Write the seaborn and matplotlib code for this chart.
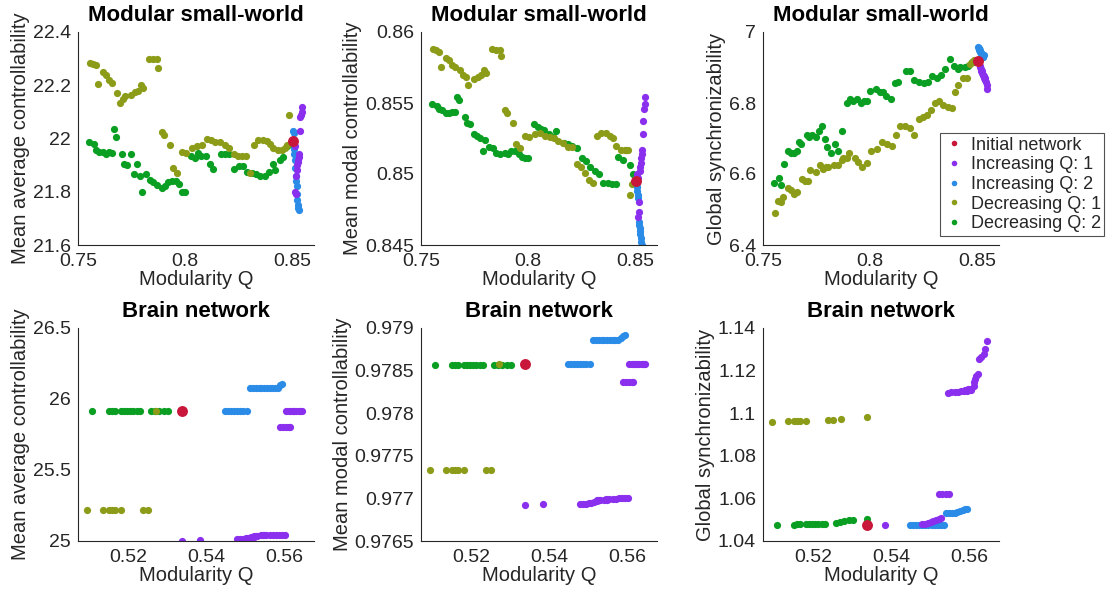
import numpy as np
import matplotlib
matplotlib.use("Agg")
import matplotlib.pyplot as plt
import seaborn as sns
from matplotlib.lines import Line2D

# ---------------- data: top row (Modular small-world) ----------------
labels = ["Initial network", "Increasing Q: 1", "Increasing Q: 2", "Decreasing Q: 1", "Decreasing Q: 2"]
titles = ["Modular small-world", "Brain network"]
ylabels = ["Mean average controllability", "Mean modal controllability", "Global synchronizability"]
xlabel = "Modularity Q"

sw_init_x = [0.8500]
sw_init_avg = [21.99]
sw_init_modal = [0.8495]
sw_init_sync = [6.918]

sw_inc1_x = [0.8505, 0.8510, 0.8512, 0.8515, 0.8518, 0.8520, 0.8522, 0.8525, 0.8527, 0.8530,
             0.8532, 0.8535, 0.8537, 0.8540, 0.8542, 0.8545]
sw_inc1_avg = [21.99, 21.97, 21.80, 21.79, 21.86, 21.88, 21.90, 21.91, 21.92, 21.93,
               21.94, 22.03, 22.08, 22.09, 22.10, 22.12]
sw_inc1_modal = [0.8500, 0.8497, 0.8470, 0.8473, 0.8480, 0.8502, 0.8505, 0.8508, 0.8511, 0.8514,
                 0.8517, 0.8528, 0.8537, 0.8546, 0.8549, 0.8554]
sw_inc1_sync = [6.915, 6.905, 6.900, 6.895, 6.890, 6.890, 6.885, 6.880, 6.880, 6.875,
                6.870, 6.870, 6.865, 6.860, 6.850, 6.840]

sw_inc2_x = [0.8502, 0.8505, 0.8507, 0.8509, 0.8511, 0.8513, 0.8515, 0.8517, 0.8519, 0.8521,
             0.8523, 0.8525, 0.8527, 0.8530]
sw_inc2_avg = [22.03, 22.02, 21.96, 21.94, 21.92, 21.89, 21.86, 21.84, 21.82, 21.79,
               21.77, 21.75, 21.74, 21.73]
sw_inc2_modal = [0.8497, 0.8494, 0.8491, 0.8488, 0.8485, 0.8483, 0.8466, 0.8464, 0.8462, 0.8460,
                 0.8458, 0.8455, 0.8452, 0.8450]
sw_inc2_sync = [6.958, 6.955, 6.952, 6.950, 6.948, 6.945, 6.942, 6.940, 6.938, 6.935,
                6.932, 6.930, 6.930, 6.935]

sw_dec1_x = [0.7555, 0.7570, 0.7585, 0.7595, 0.7615, 0.7630, 0.7645, 0.7660, 0.7680, 0.7695,
             0.7710, 0.7720, 0.7745, 0.7765, 0.7780, 0.7795, 0.7805, 0.7830, 0.7850, 0.7870,
             0.7875, 0.7890, 0.7900, 0.7930, 0.7945, 0.7960, 0.7985, 0.8005, 0.8030, 0.8055,
             0.8080, 0.8100, 0.8120, 0.8140, 0.8160, 0.8185, 0.8205, 0.8225, 0.8245, 0.8265,
             0.8285, 0.8300, 0.8320, 0.8340, 0.8360, 0.8380, 0.8395, 0.8410, 0.8430, 0.8450,
             0.8465, 0.8475, 0.8485]
sw_dec1_avg = [22.285, 22.280, 22.275, 22.205, 22.250, 22.240, 22.220, 22.210, 22.170, 22.135,
               22.150, 22.160, 22.165, 22.175, 22.180, 22.200, 22.190, 22.300, 22.300, 22.298,
               22.265, 22.025, 22.015, 21.975, 21.890, 21.870, 21.950, 21.945, 21.965, 21.970,
               21.975, 22.000, 21.995, 21.985, 21.985, 21.975, 21.965, 21.940, 21.935, 21.935,
               21.935, 21.870, 21.975, 21.995, 21.995, 21.990, 21.980, 21.965, 21.955, 21.955,
               21.965, 21.975, 22.090]
sw_dec1_modal = [0.8588, 0.8587, 0.8586, 0.85755, 0.8582, 0.8580, 0.8577, 0.8575, 0.8573, 0.8570,
                 0.8568, 0.8563, 0.8567, 0.8568, 0.8570, 0.8573, 0.8571, 0.8588, 0.8587, 0.8587,
                 0.8583, 0.8545, 0.8543, 0.8536, 0.8521, 0.8518, 0.8527, 0.8526, 0.8528, 0.8529,
                 0.8527, 0.8526, 0.8525, 0.8523, 0.8522, 0.8519, 0.8519, 0.8507, 0.8505, 0.8501,
                 0.8496, 0.8494, 0.8527, 0.8529, 0.8529, 0.8527, 0.8525, 0.8520, 0.8517, 0.8517,
                 0.8517, 0.8485, 0.8493]
sw_dec1_sync = [6.490, 6.525, 6.520, 6.535, 6.560, 6.555, 6.545, 6.550, 6.585, 6.580,
                6.580, 6.610, 6.605, 6.625, 6.615, 6.620, 6.620, 6.625, 6.625, 6.640,
                6.645, 6.645, 6.660, 6.645, 6.635, 6.620, 6.630, 6.665, 6.670, 6.690,
                6.685, 6.680, 6.710, 6.735, 6.735, 6.730, 6.710, 6.755, 6.760, 6.765,
                6.780, 6.800, 6.805, 6.795, 6.790, 6.785, 6.830, 6.850, 6.870, 6.870,
                6.910, 6.915, 6.920]

sw_dec2_x = [0.7550, 0.7575, 0.7585, 0.7600, 0.7615, 0.7630, 0.7645, 0.7660, 0.7670, 0.7675,
             0.7705, 0.7715, 0.7730, 0.7745, 0.7760, 0.7775, 0.7790, 0.7800, 0.7815, 0.7835,
             0.7850, 0.7870, 0.7890, 0.7905, 0.7920, 0.7940, 0.7955, 0.7970, 0.7985, 0.8000,
             0.8025, 0.8045, 0.8060, 0.8075, 0.8095, 0.8115, 0.8130, 0.8165, 0.8185, 0.8205,
             0.8225, 0.8250, 0.8270, 0.8290, 0.8310, 0.8330, 0.8350, 0.8370, 0.8390, 0.8410,
             0.8420, 0.8440, 0.8455, 0.8475, 0.8490]
sw_dec2_avg = [21.985, 21.980, 21.955, 21.950, 21.950, 21.940, 21.950, 21.945, 22.035, 22.005,
               21.940, 21.905, 21.900, 21.940, 21.865, 21.905, 21.860, 21.800, 21.865, 21.845,
               21.835, 21.825, 21.815, 21.820, 21.835, 21.840, 21.840, 21.830, 21.800, 21.800,
               21.935, 21.925, 21.945, 21.935, 21.935, 21.905, 21.885, 21.940, 21.940, 21.940,
               21.885, 21.895, 21.895, 21.875, 21.870, 21.865, 21.860, 21.860, 21.875, 21.905,
               21.880, 21.920, 21.930, 21.970, 21.980]
sw_dec2_modal = [0.8549, 0.8548, 0.8546, 0.8545, 0.8543, 0.8543, 0.8544, 0.8544, 0.8554, 0.8552,
                 0.8540, 0.8536, 0.8535, 0.8528, 0.8527, 0.8525, 0.8516, 0.8524, 0.8519, 0.8518,
                 0.8515, 0.8514, 0.8515, 0.8514, 0.8516, 0.8516, 0.8514, 0.8512, 0.8511, 0.8511,
                 0.8535, 0.8533, 0.8532, 0.8531, 0.8528, 0.8526, 0.8530, 0.8522, 0.8521, 0.8520,
                 0.8518, 0.8511, 0.8509, 0.8505, 0.8502, 0.8500, 0.8494, 0.8494, 0.8493, 0.8493,
                 0.8512, 0.8510, 0.8517, 0.8506, 0.8500]
sw_dec2_sync = [6.576, 6.590, 6.570, 6.628, 6.665, 6.660, 6.660, 6.665, 6.690, 6.685,
                6.710, 6.705, 6.710, 6.705, 6.720, 6.735, 6.700, 6.675, 6.660, 6.685,
                6.665, 6.720, 6.800, 6.810, 6.805, 6.810, 6.800, 6.805, 6.805, 6.835,
                6.840, 6.830, 6.830, 6.820, 6.810, 6.855, 6.860, 6.890, 6.890, 6.865,
                6.860, 6.855, 6.860, 6.875, 6.870, 6.880, 6.895, 6.925, 6.905, 6.895,
                6.900, 6.900, 6.905, 6.915, 6.915]

# ---------------- data: bottom row (Brain network) ----------------
br_init_x = [0.5336]
br_init_avg = [25.915]
br_init_modal = [0.97858]
br_init_sync = [1.0477]

br_inc1_x = [0.5336, 0.5383, 0.5478, 0.5485, 0.5492, 0.5500, 0.5507, 0.5514, 0.5520, 0.5526,
             0.5522, 0.5530, 0.5538, 0.5546, 0.5545, 0.5553, 0.5561, 0.5569, 0.5577, 0.5585,
             0.5593, 0.5600, 0.5589, 0.5596, 0.5603, 0.5610, 0.5614, 0.5603, 0.5610, 0.5617,
             0.5622, 0.5625, 0.5630, 0.5636, 0.5640, 0.5644]
br_inc1_avg = [25.000, 25.010, 25.015, 25.015, 25.015, 25.018, 25.020, 25.025, 25.030, 25.035,
               25.035, 25.038, 25.040, 25.040, 25.040, 25.040, 25.040, 25.043, 25.045, 25.045,
               25.045, 25.045, 25.800, 25.800, 25.800, 25.800, 25.800, 25.915, 25.915, 25.915,
               25.915, 25.915, 25.915, 25.915, 25.915, 25.915]
br_inc1_modal = [0.97692, 0.97694, 0.97694, 0.97694, 0.97694, 0.97695, 0.97695, 0.97696, 0.97697, 0.97698,
                 0.97698, 0.97698, 0.97698, 0.97698, 0.97699, 0.97699, 0.97699, 0.97699, 0.97700, 0.97700,
                 0.97700, 0.97700, 0.97837, 0.97837, 0.97837, 0.97837, 0.97837, 0.97858, 0.97858, 0.97858,
                 0.97858, 0.97858, 0.97858, 0.97858, 0.97858, 0.97858]
br_inc1_sync = [1.0477, 1.0477, 1.0480, 1.0482, 1.0485, 1.0490, 1.0492, 1.0497, 1.0505, 1.0510,
                1.0622, 1.0622, 1.0622, 1.0620, 1.1095, 1.1098, 1.1100, 1.1100, 1.1103, 1.1105,
                1.1105, 1.1108, 1.1110, 1.1112, 1.1115, 1.1145, 1.1160, 1.1110, 1.1130, 1.1175,
                1.1185, 1.1255, 1.1265, 1.1280, 1.1300, 1.1337]

br_inc2_x = [0.5448, 0.5455, 0.5462, 0.5470, 0.5478, 0.5486, 0.5494, 0.5502, 0.5510, 0.5518,
             0.5526, 0.5533, 0.5540, 0.5547, 0.5554, 0.5561, 0.5568, 0.5575, 0.5582, 0.5588,
             0.5593]
br_inc2_avg = [25.915, 25.915, 25.915, 25.915, 25.915, 25.915, 25.915, 25.915, 26.075, 26.075,
               26.075, 26.075, 26.075, 26.075, 26.075, 26.075, 26.075, 26.075, 26.080, 26.100,
               26.105]
br_inc2_modal = [0.97858, 0.97858, 0.97858, 0.97858, 0.97858, 0.97858, 0.97858, 0.97858, 0.97886, 0.97886,
                 0.97886, 0.97886, 0.97886, 0.97886, 0.97886, 0.97886, 0.97886, 0.97886, 0.97888, 0.97891,
                 0.97892]
br_inc2_sync = [1.0475, 1.0475, 1.0475, 1.0475, 1.0475, 1.0475, 1.0475, 1.0475, 1.0475, 1.0475,
                1.0475, 1.0475, 1.0530, 1.0530, 1.0530, 1.0530, 1.0535, 1.0540, 1.0545, 1.0550,
                1.0550]

br_dec1_x = [0.5092, 0.5134, 0.5150, 0.5158, 0.5166, 0.5180, 0.5236, 0.5250, 0.5270, 0.5336]
br_dec1_avg = [25.22, 25.22, 25.22, 25.22, 25.22, 25.22, 25.22, 25.22, 25.915, 25.915]
br_dec1_modal = [0.97733, 0.97733, 0.97733, 0.97733, 0.97733, 0.97733, 0.97733, 0.97733, 0.97858, 0.97858]
br_dec1_sync = [1.0959, 1.0963, 1.0963, 1.0963, 1.0963, 1.0963, 1.0968, 1.0968, 1.0974, 1.0980]

br_dec2_x = [0.5105, 0.5150, 0.5158, 0.5166, 0.5180, 0.5188, 0.5196, 0.5204, 0.5212, 0.5220,
             0.5228, 0.5258, 0.5268, 0.5278, 0.5290, 0.5302, 0.5336]
br_dec2_avg = [25.913, 25.913, 25.913, 25.913, 25.915, 25.915, 25.915, 25.915, 25.915, 25.915,
               25.915, 25.915, 25.915, 25.915, 25.915, 25.915, 25.915]
br_dec2_modal = [0.97857] * 17
br_dec2_sync = [1.0477, 1.0477, 1.0478, 1.0478, 1.0478, 1.0478, 1.0478, 1.0478, 1.0478, 1.0478,
                1.0478, 1.0486, 1.0487, 1.0495, 1.0498, 1.0500, 1.0505]

# ---------------- style ----------------
sns.set_theme(style="white")
plt.rcParams['font.family'] = ['Liberation Sans', 'DejaVu Sans']

colors = {
    "Initial network": "#C8173A",
    "Increasing Q: 1": "#8A2FEE",
    "Increasing Q: 2": "#2A8CE6",
    "Decreasing Q: 1": "#8C9C18",
    "Decreasing Q: 2": "#0A9E22",
}

fig = plt.figure(figsize=(11.19, 5.93), dpi=100)

W, H = 1119.0, 593.0
col_px = [(78, 314), (421, 657), (763, 999)]
row_px = [(32, 245), (328, 541)]

top_sets = [
    (sw_init_x, [sw_init_avg, sw_init_modal, sw_init_sync]),
    (sw_inc1_x, [sw_inc1_avg, sw_inc1_modal, sw_inc1_sync]),
    (sw_inc2_x, [sw_inc2_avg, sw_inc2_modal, sw_inc2_sync]),
    (sw_dec1_x, [sw_dec1_avg, sw_dec1_modal, sw_dec1_sync]),
    (sw_dec2_x, [sw_dec2_avg, sw_dec2_modal, sw_dec2_sync]),
]
bot_sets = [
    (br_init_x, [br_init_avg, br_init_modal, br_init_sync]),
    (br_inc1_x, [br_inc1_avg, br_inc1_modal, br_inc1_sync]),
    (br_inc2_x, [br_inc2_avg, br_inc2_modal, br_inc2_sync]),
    (br_dec1_x, [br_dec1_avg, br_dec1_modal, br_dec1_sync]),
    (br_dec2_x, [br_dec2_avg, br_dec2_modal, br_dec2_sync]),
]

xlims = [(0.75, 0.86), (0.507, 0.5675)]
xticks = [[0.75, 0.8, 0.85], [0.52, 0.54, 0.56]]
xticklabels = [["0.75", "0.8", "0.85"], ["0.52", "0.54", "0.56"]]
ylims = [[(21.6, 22.4), (0.845, 0.86), (6.4, 7.0)],
         [(25.0, 26.5), (0.9765, 0.979), (1.04, 1.14)]]
yticks = [[[21.6, 21.8, 22.0, 22.2, 22.4], [0.845, 0.85, 0.855, 0.86], [6.4, 6.6, 6.8, 7.0]],
          [[25.0, 25.5, 26.0, 26.5], [0.9765, 0.977, 0.9775, 0.978, 0.9785, 0.979],
           [1.04, 1.06, 1.08, 1.1, 1.12, 1.14]]]
yticklabels = [[["21.6", "21.8", "22", "22.2", "22.4"], ["0.845", "0.85", "0.855", "0.86"],
                ["6.4", "6.6", "6.8", "7"]],
               [["25", "25.5", "26", "26.5"], ["0.9765", "0.977", "0.9775", "0.978", "0.9785", "0.979"],
                ["1.04", "1.06", "1.08", "1.1", "1.12", "1.14"]]]

# draw order: green, olive, blue, purple, red on top
order = [4, 3, 2, 1, 0]
sizes = [62, 27, 27, 27, 27]
text_col = "#262626"

for r, sets in enumerate([top_sets, bot_sets]):
    y0, y1 = row_px[r]
    for c in range(3):
        x0, x1 = col_px[c]
        ax = fig.add_axes([x0 / W, 1 - y1 / H, (x1 - x0) / W, (y1 - y0) / H])
        for k in order:
            xs, ys_list = sets[k]
            lab = labels[k]
            sns.scatterplot(x=xs, y=ys_list[c], ax=ax, color=colors[lab], s=sizes[k],
                            linewidth=0, alpha=1.0, legend=False)
        ax.set_xlim(*xlims[r])
        ax.set_ylim(*ylims[r][c])
        ax.set_xticks(xticks[r])
        ax.set_xticklabels(xticklabels[r])
        ax.set_yticks(yticks[r][c])
        ax.set_yticklabels(yticklabels[r][c])
        ax.set_xlabel(xlabel, fontsize=14.5, color=text_col, labelpad=0)
        ax.set_ylabel(ylabels[c], fontsize=14.5, color=text_col, labelpad=2)
        ax.set_title(titles[r], fontsize=16, fontweight="bold", color="black", pad=8)
        ax.tick_params(axis="both", labelsize=14, colors=text_col, direction="in",
                       length=3, width=0.8)
        ax.tick_params(axis="x", pad=6)
        ax.tick_params(axis="y", pad=5)
        for side in ["top", "right"]:
            ax.spines[side].set_visible(False)
        for side in ["left", "bottom"]:
            ax.spines[side].set_color(text_col)
            ax.spines[side].set_linewidth(0.8)
        if r == 0 and c == 2:
            handles = [Line2D([0], [0], marker="o", linestyle="none", markersize=4,
                              markerfacecolor=colors[l], markeredgewidth=0) for l in labels]
            leg = ax.legend(handles, labels, loc="upper left",
                            bbox_to_anchor=(940 / W, 1 - 133 / H), bbox_transform=fig.transFigure,
                            borderaxespad=0, frameon=True, fancybox=False, fontsize=13,
                            handletextpad=0.3, handlelength=1.2, borderpad=0.2,
                            labelspacing=0.15)
            leg.get_frame().set_edgecolor("#262626")
            leg.get_frame().set_linewidth(0.8)

fig.savefig("out.png", dpi=100)
